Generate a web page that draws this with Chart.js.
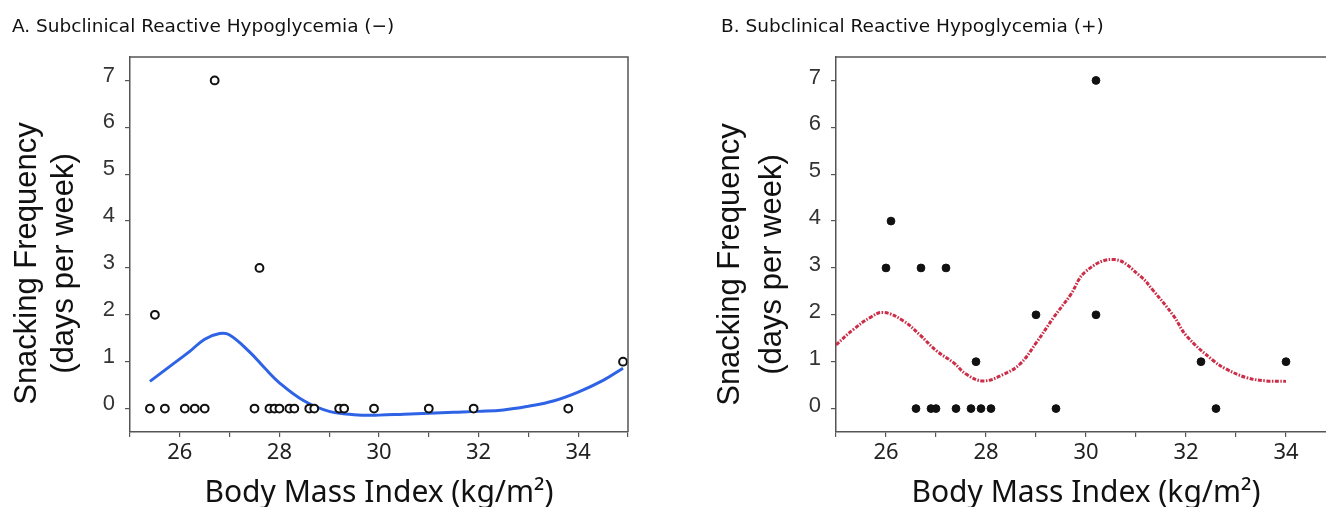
<!DOCTYPE html>
<html lang="en">
<head>
  <meta charset="UTF-8">
  <title>Snacking Frequency vs BMI</title>
  <style>
    html, body {
      margin: 0;
      padding: 0;
      background: #fff;
      overflow: hidden;
    }
    .panel {
      position: absolute;
      top: 0;
      width: 640px;
      height: 507px;
    }
    #panelA { left: 0; }
    #panelB { left: 706px; }
  </style>
  <script src="https://cdn.jsdelivr.net/npm/chart.js"></script>
</head>
<body>

  <div class="panel" id="panelA"><canvas id="chartA"></canvas></div>
  <div class="panel" id="panelB"><canvas id="chartB"></canvas></div>

  <script>
    // panel titles and axis text
    var titleA = 'A. Subclinical Reactive Hypoglycemia (\u2212)';
    var titleB = 'B. Subclinical Reactive Hypoglycemia (+)';
    var xTitle = 'Body Mass Index (kg/m\u00B2)';
    var yTitleLines = ['Snacking Frequency', '(days per week)'];

    // tick labels
    var xTicks = [25, 26, 27, 28, 29, 30, 31, 32, 33, 34, 35];
    var xTickLabels = ['', '26', '', '28', '', '30', '', '32', '', '34', ''];
    var yTicks = [0, 1, 2, 3, 4, 5, 6, 7];

    // panel A: observed points (BMI, days per week)
    var bmiA = [25.4, 25.5, 25.7, 26.1, 26.3, 26.5, 26.7, 27.5, 27.6, 27.8, 27.9, 28.0, 28.2, 28.3, 28.6, 28.7, 29.2, 29.3, 29.9, 31.0, 31.9, 33.8, 34.9];
    var snackA = [0, 2, 0, 0, 0, 0, 7, 0, 3, 0, 0, 0, 0, 0, 0, 0, 0, 0, 0, 0, 0, 0, 1];

    // panel A: smoothed curve
    var curveBmiA = [25.4, 25.8, 26.2, 26.5, 26.8, 27.0, 27.4, 27.7, 28.0, 28.5, 29.0, 29.5, 30.0, 30.5, 31.0, 31.5, 32.0, 32.5, 33.0, 33.5, 34.0, 34.5, 34.9];
    var curveSnackA = [0.58, 0.9, 1.22, 1.48, 1.6, 1.57, 1.21, 0.87, 0.55, 0.16, -0.06, -0.13, -0.14, -0.12, -0.1, -0.08, -0.06, -0.03, 0.05, 0.16, 0.35, 0.6, 0.86];

    // panel B: observed points
    var bmiB = [26.0, 26.1, 26.6, 26.7, 26.9, 27.0, 27.2, 27.4, 27.7, 27.8, 27.9, 28.1, 29.0, 29.4, 30.2, 30.2, 32.3, 32.6, 34.0];
    var snackB = [3, 4, 0, 3, 0, 0, 3, 0, 0, 1, 0, 0, 2, 0, 7, 2, 1, 0, 1];

    // panel B: smoothed curve
    var curveBmiB = [25.0, 25.35, 25.68, 25.95, 26.35, 26.68, 27.01, 27.35, 27.61, 27.95, 28.35, 28.68, 29.01, 29.35, 29.68, 30.0, 30.57, 31.08, 31.35, 31.75, 32.01, 32.55, 32.81, 33.21, 33.61, 34.0];
    var curveSnackB = [1.36, 1.69, 1.94, 2.05, 1.87, 1.57, 1.23, 0.98, 0.73, 0.59, 0.73, 0.95, 1.41, 1.94, 2.41, 2.93, 3.18, 2.83, 2.51, 1.98, 1.55, 1.02, 0.84, 0.66, 0.59, 0.58];

    function toPoints(xs, ys) {
      var pts = [];
      for (var i = 0; i < xs.length; i++) {
        pts.push({ x: xs[i], y: ys[i] });
      }
      return pts;
    }

    // draws the panel title, the top/right frame lines and the two-line y title
    var framePlugin = {
      id: 'frame',
      afterDraw: function (chart, args, opts) {
        var ctx = chart.ctx;
        var a = chart.chartArea;
        ctx.save();
        ctx.strokeStyle = '#555';
        ctx.lineWidth = 1.5;
        ctx.beginPath();
        ctx.moveTo(a.left, a.top);
        ctx.lineTo(a.right, a.top);
        ctx.lineTo(a.right, a.bottom);
        ctx.stroke();

        // panel title
        ctx.fillStyle = '#111';
        ctx.font = '18.5px "DejaVu Sans", sans-serif';
        ctx.textAlign = 'left';
        ctx.textBaseline = 'middle';
        ctx.fillText(opts.title, opts.titleX, 27);

        // y axis title, two rotated lines
        var cy = (a.top + a.bottom) / 2 + opts.shiftY;
        ctx.font = '31px "Liberation Sans", Arial, sans-serif';
        ctx.textAlign = 'center';
        for (var i = 0; i < yTitleLines.length; i++) {
          ctx.save();
          ctx.translate(opts.x + i * opts.gap, cy);
          ctx.rotate(-Math.PI / 2);
          ctx.fillText(yTitleLines[i], 0, 0);
          ctx.restore();
        }
        ctx.restore();
      }
    };

    function makeChart(canvasId, points, curve, pointStyle, lineStyle, frameOpts, labelShift, padRight) {
      var ctx = document.getElementById(canvasId).getContext('2d');
      return new Chart(ctx, {
        type: 'scatter',
        data: {
          datasets: [Object.assign({
            data: points,
            pointRadius: 3.9,
            pointHoverRadius: 3.9
          }, pointStyle),
          Object.assign({
            type: 'line',
            data: curve,
            showLine: true,
            pointRadius: 0,
            tension: 0.4,
            fill: false
          }, lineStyle)]
        },
        options: {
          responsive: true,
          maintainAspectRatio: false,
          animation: false,
          layout: { padding: { left: 0, right: padRight, top: 57, bottom: 0 } },
          plugins: {
            legend: { display: false },
            tooltip: { enabled: false },
            title: { display: false },
            frame: frameOpts
          },
          scales: {
            x: {
              type: 'linear',
              min: 25,
              max: 35,
              afterBuildTicks: function (scale) {
                scale.ticks = xTicks.map(function (v) { return { value: v }; });
              },
              afterFit: function (scale) { scale.height = 75; },
              grid: { display: true, drawOnChartArea: false, tickLength: 5, color: '#555', lineWidth: 1.2 },
              border: { display: true, color: '#555', width: 1.5 },
              ticks: {
                padding: 3,
                color: '#222',
                font: { family: '"Noto Sans", sans-serif', size: 22 },
                maxRotation: 0,
                autoSkip: false,
                callback: function (value) {
                  var i = xTicks.indexOf(value);
                  return i >= 0 ? xTickLabels[i] : '';
                }
              },
              title: {
                display: true,
                text: xTitle,
                color: '#111',
                font: { family: '"Noto Sans", sans-serif', size: 30, lineHeight: 0.9 },
                padding: { top: 0, bottom: 0 }
              }
            },
            y: {
              type: 'linear',
              min: -0.5,
              max: 7.5,
              afterBuildTicks: function (scale) {
                scale.ticks = yTicks.map(function (v) { return { value: v }; });
              },
              afterFit: function (scale) { scale.width = 130; },
              grid: { display: true, drawOnChartArea: false, tickLength: 5, color: '#555', lineWidth: 1.2 },
              border: { display: true, color: '#555', width: 1.5 },
              ticks: {
                padding: 10,
                labelOffset: labelShift,
                color: '#333',
                font: { family: '"Liberation Sans", Arial, sans-serif', size: 22 }
              }
            }
          }
        },
        plugins: [framePlugin]
      });
    }

    makeChart('chartA',
      toPoints(bmiA, snackA),
      toPoints(curveBmiA, curveSnackA),
      { backgroundColor: '#fff', borderColor: '#111', borderWidth: 2 },
      { borderColor: '#2f63e6', borderWidth: 3 },
      { title: titleA, titleX: 12, x: 27, gap: 37, shiftY: 19 },
      -5, 12);

    makeChart('chartB',
      toPoints(bmiB, snackB),
      toPoints(curveBmiB, curveSnackB),
      { backgroundColor: '#111', borderColor: '#111', borderWidth: 1 },
      { borderColor: '#cc2d48', borderWidth: 3, borderDash: [4, 1.5, 1.5, 1.5] },
      { title: titleB, titleX: 15, x: 24, gap: 42, shiftY: 20 },
      -3, 10);
  </script>

</body>
</html>
